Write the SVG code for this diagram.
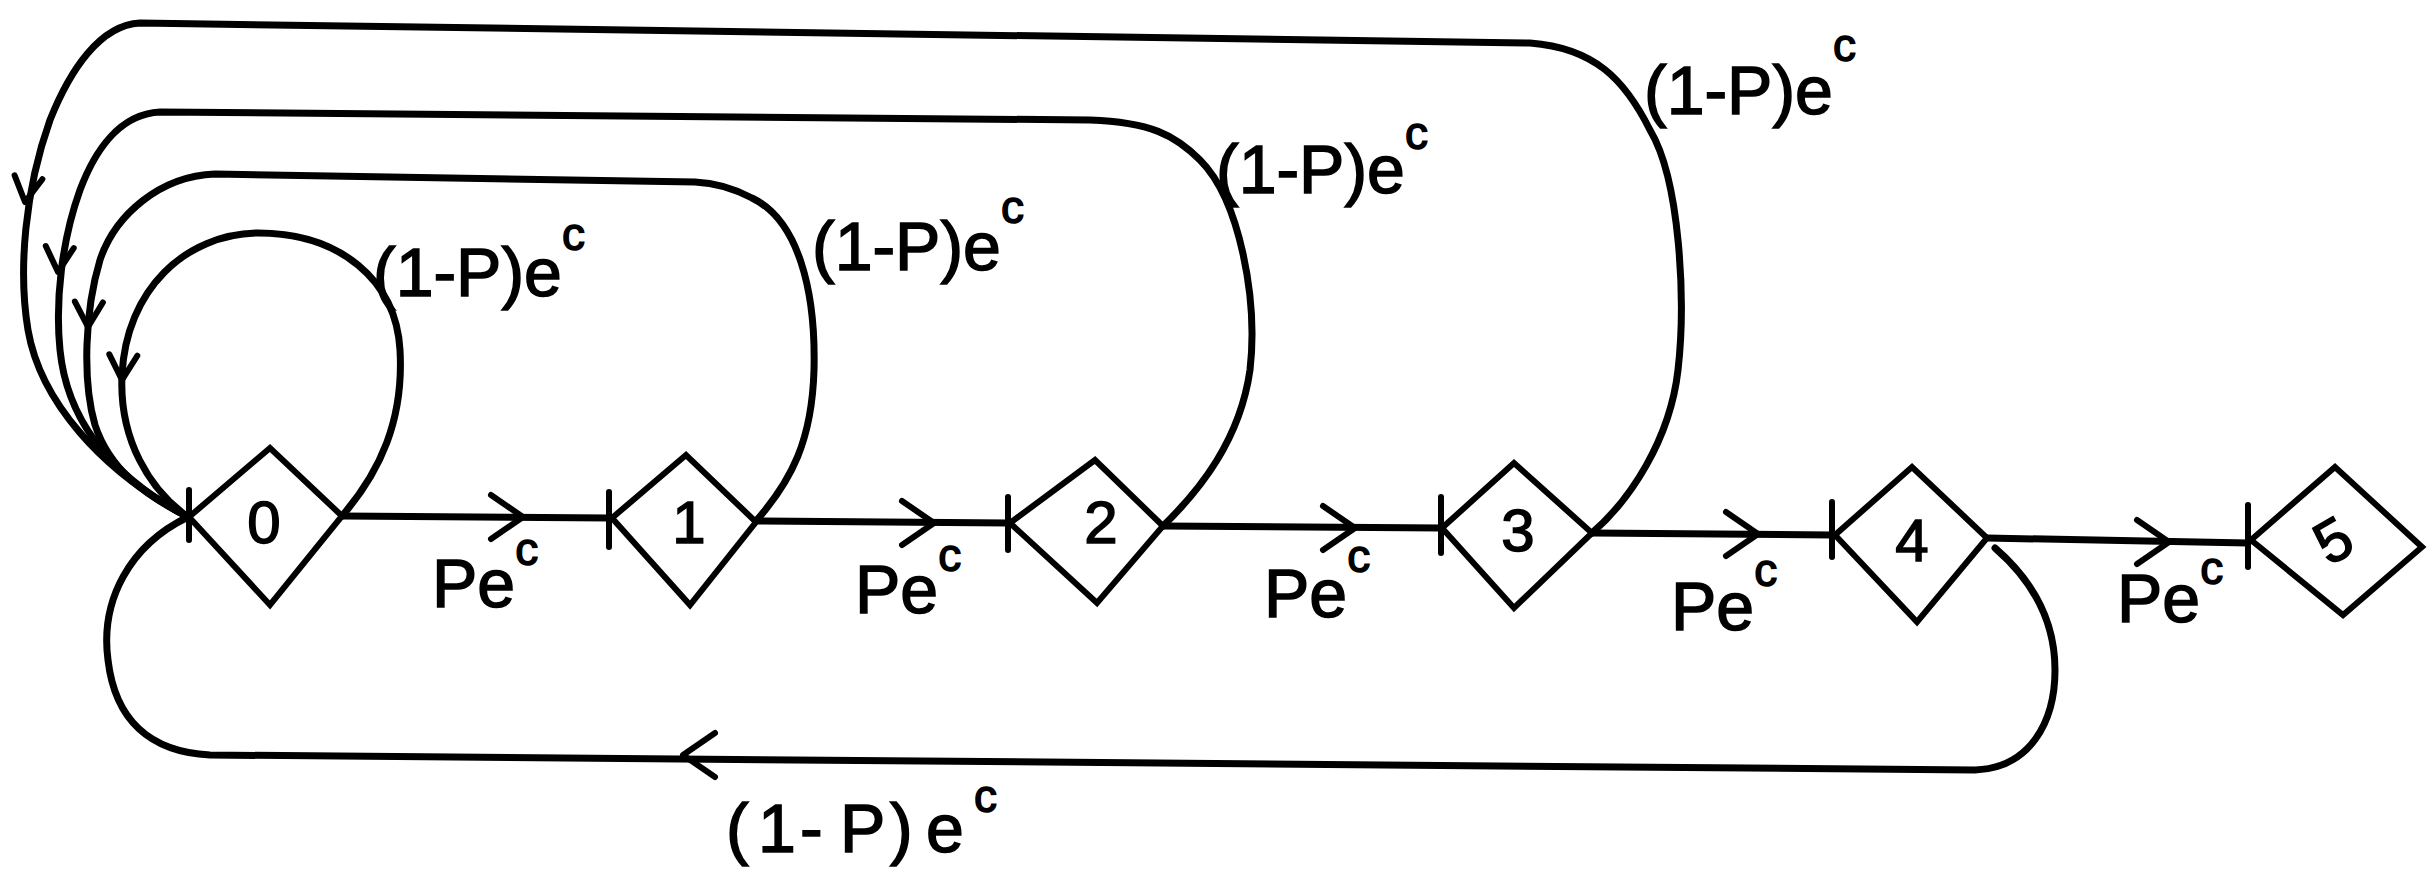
<svg xmlns="http://www.w3.org/2000/svg" xmlns:xlink="http://www.w3.org/1999/xlink" width="2431" height="881" viewBox="0 0 2431 881">
<style>
  .bg { fill: #ffffff; }
  .node { fill: none; stroke: #000; stroke-width: 6; stroke-linejoin: miter; }
  .num { font-family: "Liberation Sans", Arial, sans-serif; font-size: 60px; fill: #000; stroke: #000; stroke-width: 1.5; text-anchor: middle; }
  .edge { fill: none; stroke: #000; stroke-width: 7; stroke-linecap: round; stroke-linejoin: round; }
  .tick { fill: none; stroke: #000; stroke-width: 6; stroke-linecap: round; }
  .lbl { font-family: "Liberation Sans", Arial, sans-serif; font-size: 68px; fill: #000; stroke: #000; stroke-width: 1.5; }
  .sup { font-size: 46px; }
</style>
<defs>
  <path id="chev" d="M-32,-22 L0,0 L-32,22" fill="none" stroke="#000" stroke-width="6" stroke-linecap="round" stroke-linejoin="round"/>
  <path id="chevs" d="M-25,-14 L0,0 L-25,14" fill="none" stroke="#000" stroke-width="6" stroke-linecap="round" stroke-linejoin="round"/>
</defs>
<rect class="bg" x="0" y="0" width="2431" height="881"/>

<g id="connectors">
  <!-- forward edges -->
  <g id="e-0-1">
    <path class="edge" d="M342,516 L609,518"/>
    <use xlink:href="#chev" transform="translate(523,517)"/>
    <line class="tick" x1="189" y1="490" x2="189" y2="540"/>
    <text class="lbl" x="432" y="607">Pe<tspan class="sup" dy="-42">c</tspan></text>
  </g>
  <g id="e-1-2">
    <path class="edge" d="M756,521 L1008,523"/>
    <use xlink:href="#chev" transform="translate(934,523)"/>
    <line class="tick" x1="609" y1="492" x2="609" y2="547"/>
    <text class="lbl" x="855" y="613">Pe<tspan class="sup" dy="-42">c</tspan></text>
  </g>
  <g id="e-2-3">
    <path class="edge" d="M1163,526 L1441,528"/>
    <use xlink:href="#chev" transform="translate(1355,528)"/>
    <line class="tick" x1="1008" y1="497" x2="1008" y2="550"/>
    <text class="lbl" x="1264" y="617">Pe<tspan class="sup" dy="-45">c</tspan></text>
  </g>
  <g id="e-3-4">
    <path class="edge" d="M1592,533 L1832,535"/>
    <use xlink:href="#chev" transform="translate(1758,534)"/>
    <line class="tick" x1="1441" y1="497" x2="1441" y2="553"/>
    <text class="lbl" x="1671" y="630">Pe<tspan class="sup" dy="-44">c</tspan></text>
  </g>
  <g id="e-4-5">
    <path class="edge" d="M1987,538 L2248,543"/>
    <use xlink:href="#chev" transform="translate(2169,542)"/>
    <line class="tick" x1="1832" y1="502" x2="1832" y2="557"/>
    <line class="tick" x1="2248" y1="505" x2="2248" y2="567"/>
    <text class="lbl" x="2117" y="622">Pe<tspan class="sup" dy="-38">c</tspan></text>
  </g>

  <!-- return loops to node 0 -->
  <g id="e-0-0">
    <path class="edge" d="M342,516 C380,472 404,420 400,350 C396,280 340,233 258,233 C185,234 126,290 122,375 C119,440 150,490 188,517"/>
    <use xlink:href="#chevs" transform="translate(122,380) rotate(93)"/>
    <text class="lbl" x="373" y="296">(1-P)e<tspan class="sup" dy="-46">c</tspan></text>
  </g>
  <g id="e-1-0">
    <path class="edge" d="M756,521 C792,480 812,440 814,370 C816,290 798,220 752,198 C735,189 718,183 695,182 L215,174 C160,176 115,215 100,260 C85,310 82,380 95,425 C110,470 145,495 188,517"/>
    <use xlink:href="#chevs" transform="translate(88,327) rotate(92)"/>
    <text class="lbl" x="812" y="270">(1-P)e<tspan class="sup" dy="-47">c</tspan></text>
  </g>
  <g id="e-2-0">
    <path class="edge" d="M1163,526 C1200,490 1240,440 1250,370 C1258,300 1240,200 1200,160 C1175,135 1150,122 1090,120 L160,112 C120,114 95,150 80,190 C62,240 55,300 60,350 C66,410 100,470 188,517"/>
    <use xlink:href="#chevs" transform="translate(58,272) rotate(94)"/>
    <text class="lbl" x="1216" y="193">(1-P)e<tspan class="sup" dy="-44">c</tspan></text>
  </g>
  <g id="e-3-0">
    <path class="edge" d="M1592,533 C1630,500 1670,440 1678,370 C1686,300 1680,180 1650,130 C1625,80 1595,48 1530,43 L140,23 C100,25 70,70 50,120 C25,190 18,270 28,330 C40,400 100,470 188,517"/>
    <use xlink:href="#chevs" transform="translate(25,202) rotate(98)"/>
    <text class="lbl" x="1644" y="114">(1-P)e<tspan class="sup" dy="-53">c</tspan></text>
  </g>
  <g id="e-4-0">
    <path class="edge" d="M1995,548 C2032,580 2055,620 2055,670 C2055,722 2030,768 1975,770 L210,755 C150,752 115,720 108,660 C100,600 130,545 188,517"/>
    <use xlink:href="#chev" transform="translate(683,755) rotate(180)"/>
    <text class="lbl" y="852"><tspan x="726">(</tspan><tspan x="758">1</tspan><tspan x="800">-</tspan><tspan x="840">P</tspan><tspan x="890">)</tspan><tspan x="926">e</tspan><tspan class="sup" x="974" dy="-40">c</tspan></text>
  </g>
</g>

<g id="node-0">
  <polygon class="node" points="189,517 270,448 342,516 270,605"/>
  <text class="num" x="264" y="543">0</text>
</g>
<g id="node-1">
  <polygon class="node" points="612,518 686,455 756,522 690,605"/>
  <text class="num" x="689" y="543">1</text>
</g>
<g id="node-2">
  <polygon class="node" points="1010,523 1095,460 1163,526 1097,603"/>
  <text class="num" x="1101" y="543">2</text>
</g>
<g id="node-3">
  <polygon class="node" points="1442,528 1514,463 1592,533 1514,608"/>
  <text class="num" x="1518" y="551">3</text>
</g>
<g id="node-4">
  <polygon class="node" points="1835,535 1912,467 1987,538 1917,622"/>
  <text class="num" x="1912" y="561">4</text>
</g>
<g id="node-5">
  <polygon class="node" points="2251,540 2335,467 2422,547 2343,615"/>
  <text class="num" x="2333" y="561" transform="rotate(-30 2333 540)">5</text>
</g>
</svg>
